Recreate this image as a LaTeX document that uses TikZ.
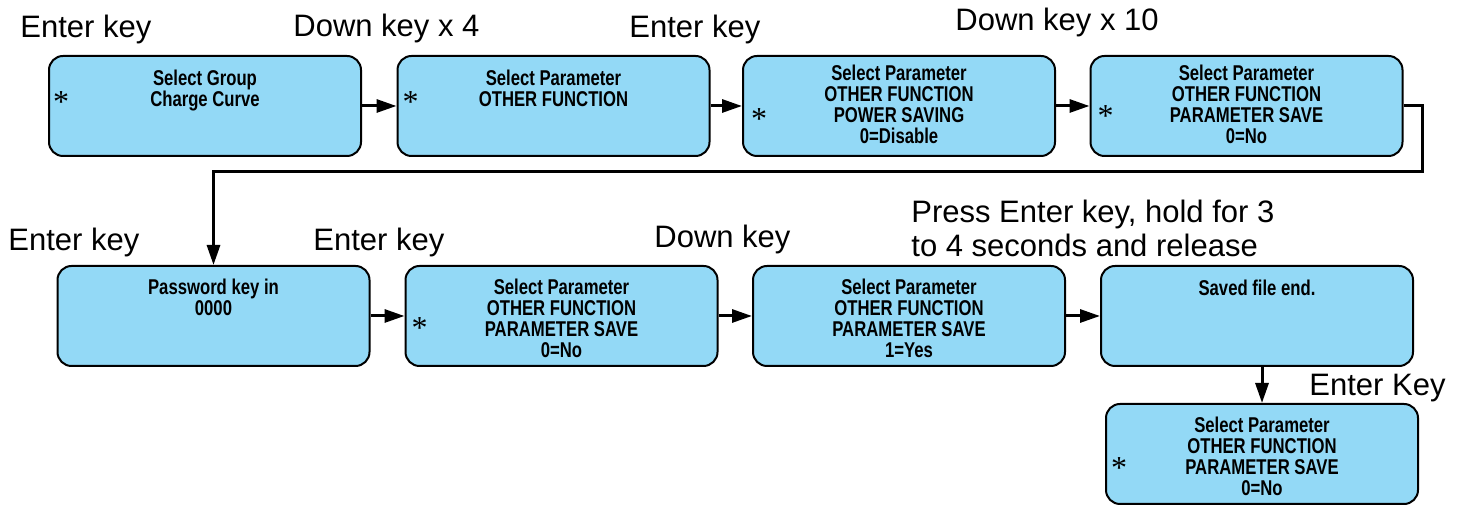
\documentclass[tikz,border=0pt]{standalone}
\usepackage{fontspec}
\setmainfont{Liberation Sans}
\newfontfamily\screenfont[FakeStretch=0.78]{Liberation Sans}
\newfontfamily\starfont{Liberation Serif}
\usetikzlibrary{arrows.meta,positioning}
\definecolor{screenblue}{RGB}{147,217,246}
\tikzset{
    screen/.style={draw, fill=screenblue, line width=1pt, rounded corners=7pt,
        minimum width=156pt, minimum height=50pt, inner sep=0pt},
    screentext/.style={anchor=north, align=center, inner sep=0pt,
        font=\screenfont\bfseries\fontsize{10.7}{10.5}\selectfont},
    cursor/.style={inner sep=0pt, font=\starfont\fontsize{16}{16}\selectfont},
    keylabel/.style={anchor=base west, inner sep=0pt, font=\fontsize{15.5}{17}\selectfont},
    flow/.style={line width=1.5pt, -{Triangle[length=10pt,width=6.5pt]}},
}
\begin{document}
\begin{tikzpicture}[x=0.5pt, y=-0.5pt]
    \useasboundingbox (0,0) rectangle (1461,506);

    \node[screen] (selectGroup) at (205,106) {};
    \node[screentext] (selectGroupText) at ([yshift=-7.5pt]selectGroup.north) {Select Group\\Charge Curve};
    \node[cursor] (selectGroupStar) at ([xshift=6.5pt,yshift=2pt]selectGroup.west) {*};

    \node[screen] (otherFunction) at (553.5,106) {};
    \node[screentext] (otherFunctionText) at ([yshift=-7.5pt]otherFunction.north) {Select Parameter\\OTHER FUNCTION};
    \node[cursor] (otherFunctionStar) at ([xshift=7pt,yshift=2pt]otherFunction.west) {*};

    \node[screen] (powerSaving) at (899,106) {};
    \node[screentext] (powerSavingText) at ([yshift=-5pt]powerSaving.north) {Select Parameter\\OTHER FUNCTION\\POWER SAVING\\0=Disable};
    \node[cursor] (powerSavingStar) at ([xshift=8.5pt,yshift=-6.5pt]powerSaving.west) {*};

    \node[screen] (paramSave) at (1246.5,106) {};
    \node[screentext] (paramSaveText) at ([yshift=-5pt]paramSave.north) {Select Parameter\\OTHER FUNCTION\\PARAMETER SAVE\\0=No};
    \node[cursor] (paramSaveStar) at ([xshift=8pt,yshift=-5pt]paramSave.west) {*};

    \node[screen] (password) at (213.5,316) {};
    \node[screentext] (passwordText) at ([yshift=-7pt]password.north) {Password key in\\0000};

    \node[screen] (saveNo) at (561.5,316) {};
    \node[screentext] (saveNoText) at ([yshift=-7pt]saveNo.north) {Select Parameter\\OTHER FUNCTION\\PARAMETER SAVE\\0=No};
    \node[cursor] (saveNoStar) at ([xshift=7.5pt,yshift=-6pt]saveNo.west) {*};

    \node[screen] (saveYes) at (909,316) {};
    \node[screentext] (saveYesText) at ([yshift=-7pt]saveYes.north) {Select Parameter\\OTHER FUNCTION\\PARAMETER SAVE\\1=Yes};

    \node[screen] (savedEnd) at (1257,316) {};
    \node[screentext] (savedEndText) at ([yshift=-7.5pt]savedEnd.north) {Saved file end.};

    \node[screen] (saveAgain) at (1262,454) {};
    \node[screentext] (saveAgainText) at ([yshift=-7pt]saveAgain.north) {Select Parameter\\OTHER FUNCTION\\PARAMETER SAVE\\0=No};
    \node[cursor] (saveAgainStar) at ([xshift=7pt,yshift=-7pt]saveAgain.west) {*};

    \node[keylabel] (enterKeyA) at (20,38) {Enter key};
    \node[keylabel] (downKeyA) at (293,37) {Down key x 4};
    \node[keylabel] (enterKeyB) at (629,38) {Enter key};
    \node[keylabel] (downKeyB) at (955,31) {Down key x 10};
    \node[keylabel] (enterKeyC) at (8,251) {Enter key};
    \node[keylabel] (enterKeyD) at (313,251) {Enter key};
    \node[keylabel] (downKeyC) at (654,248) {Down key};
    \node[keylabel, anchor=north west, align=left] (holdKey) at (911,200) {Press Enter key, hold for 3\\to 4 seconds and release};
    \node[keylabel] (enterKeyE) at (1309,396) {Enter Key};

    \coordinate (turnA) at (1422,172);
    \draw[flow] (selectGroup) -- (otherFunction);
    \draw[flow] (otherFunction) -- (powerSaving);
    \draw[flow] (powerSaving) -- (paramSave);
    \draw[flow] (paramSave.east) -| (turnA) -| (password.north);
    \draw[flow] (password) -- (saveNo);
    \draw[flow] (saveNo) -- (saveYes);
    \draw[flow] (saveYes) -- (savedEnd);
    \draw[flow] (savedEnd.south -| saveAgain.north) -- (saveAgain.north);
\end{tikzpicture}
\end{document}
